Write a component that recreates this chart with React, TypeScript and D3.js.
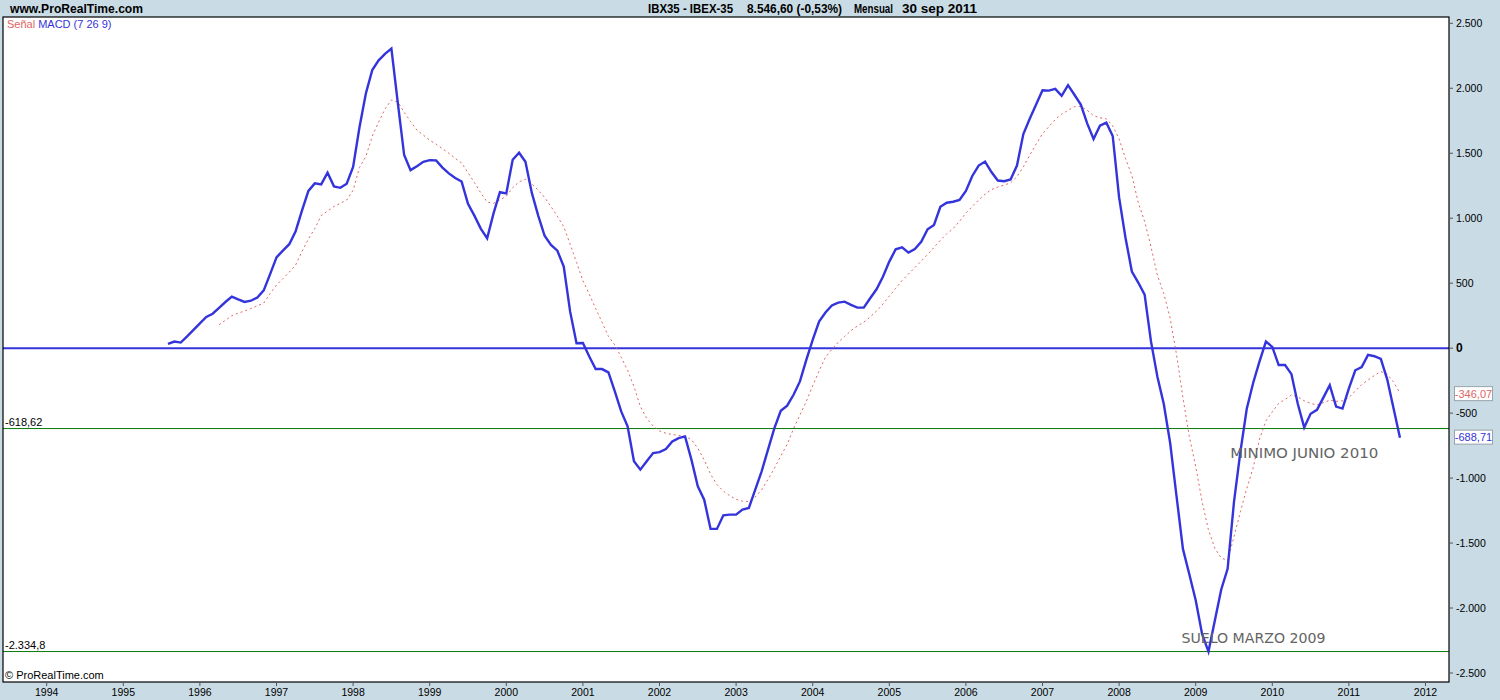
import React from 'react';
import * as d3 from 'd3';

// MACD (7 26 9) monthly values, starting August 1995
const macdStartYear = 1995;
const macdStartMonth = 7; // 0-based: August
const macdValues = [
  // 1995 Aug-Dec
  33, 51, 43, 90, 140,
  // 1996
  190, 240, 265, 310, 355, 397, 375, 356, 365, 390, 445, 570,
  // 1997
  699, 750, 800, 900, 1060, 1210, 1268, 1260, 1350, 1245, 1234, 1265,
  // 1998
  1395, 1700, 1960, 2140, 2215, 2265, 2306, 1890, 1486, 1370, 1400, 1434,
  // 1999
  1447, 1445, 1390, 1345, 1310, 1282, 1110, 1020, 920, 845, 1037, 1200,
  // 2000
  1191, 1450, 1504, 1434, 1195, 1020, 865, 794, 750, 627, 281, 38,
  // 2001
  40, -64, -161, -161, -187, -333, -487, -602, -871, -935, -871, -807,
  // 2002
  -800, -776, -718, -692, -679, -858, -1063, -1166, -1391, -1391, -1286, -1281,
  // 2003
  -1281, -1243, -1230, -1089, -948, -781, -615, -482, -443, -359, -256, -90,
  // 2004
  64, 205, 274, 328, 351, 358, 333, 312, 312, 384, 453, 550,
  // 2005
  666, 761, 776, 735, 763, 819, 915, 948, 1088, 1119, 1127, 1140,
  // 2006
  1210, 1325, 1405, 1436, 1355, 1290, 1285, 1298, 1405, 1648, 1765, 1875,
  // 2007
  1985, 1982, 1995, 1942, 2024, 1950, 1875, 1730, 1610, 1712, 1735, 1633,
  // 2008
  1160, 850, 590, 505, 412, 50, -220, -430, -730, -1140, -1545, -1740,
  // 2009
  -1940, -2200, -2335, -2096, -1857, -1698, -1183, -799, -466, -268, -102, 50,
  // 2010
  10, -130, -130, -200, -430, -610, -505, -475, -381, -285, -450, -465,
  // 2011 Jan-Sep
  -310, -170, -145, -52, -62, -83, -240, -465, -688.71,
];

// Signal line values, starting April 1996
const signalStartYear = 1996;
const signalStartMonth = 3; // April
const signalValues = [
  // 1996 Apr-Dec
  180, 215, 250, 270, 285, 305, 325, 347, 420,
  // 1997
  485, 535, 585, 640, 745, 840, 920, 1020, 1055, 1090, 1115, 1140,
  // 1998
  1215, 1390, 1475, 1630, 1740, 1840, 1910, 1895, 1815, 1745, 1678, 1640,
  // 1999
  1600, 1570, 1535, 1500, 1460, 1425, 1350, 1275, 1195, 1125, 1114, 1140,
  // 2000
  1170, 1235, 1280, 1300, 1265, 1215, 1160, 1090, 1015, 935, 800, 660,
  // 2001
  520, 415, 305, 200, 90, 25, -70, -170, -295, -449, -540, -600,
  // 2002
  -637, -655, -665, -672, -678, -705, -770, -860, -970, -1050, -1100, -1135,
  // 2003
  -1163, -1178, -1180, -1145, -1090, -1010, -925, -830, -740, -620, -515, -410,
  // 2004
  -290, -175, -70, -10, 45, 90, 135, 170, 200, 240, 285, 340,
  // 2005
  400, 460, 520, 570, 620, 670, 720, 775, 830, 880, 920, 975,
  // 2006
  1040, 1090, 1140, 1185, 1220, 1240, 1255, 1272, 1320, 1395, 1485, 1570,
  // 2007
  1650, 1705, 1760, 1800, 1830, 1858, 1862, 1830, 1790, 1772, 1765, 1710,
  // 2008
  1610, 1460, 1330, 1120, 975, 780, 560, 420, 230, -50, -380, -680,
  // 2009
  -910, -1180, -1400, -1540, -1615, -1635, -1450, -1260, -1080, -920, -700, -560,
  // 2010
  -490, -425, -395, -360, -375, -405, -425, -438, -420, -400, -410, -405,
  // 2011 Jan-Sep
  -380, -330, -280, -245, -210, -180, -200, -260, -346.07,
];

const yTickValues = [2500, 2000, 1500, 1000, 500, 0, -500, -1000, -1500, -2000, -2500];
const yearTicks = [1994, 1995, 1996, 1997, 1998, 1999, 2000, 2001, 2002, 2003, 2004, 2005, 2006, 2007, 2008, 2009, 2010, 2011, 2012];
const levelValues = [-618.62, -2334.8];
const levelLabels = ['-618,62', '-2.334,8'];
const lastMacdLabel = '-688,71';
const lastSignalLabel = '-346,07';

const titleParts = ['IBX35 - IBEX-35', '8.546,60 (-0,53%)', 'Mensual', '30 sep 2011'];
const annotations = [
  { text: 'MINIMO JUNIO 2010', year: 2010, month: 5, value: -618.62 },
  { text: 'SUELO MARZO 2009', year: 2009, month: 2, value: -2334.8 },
];

const BG = '#c9dbe5';
const BLUE = '#3434dc';
const RED = '#e06464';
const GREEN = '#0a7a0a';
const FONT = '"Liberation Sans", Arial, sans-serif';

const locale = d3.formatLocale({ decimal: ',', thousands: '.', grouping: [3], currency: ['', ''], minus: '-' });
const fmtTick = locale.format(',d');

export default function App() {
  const W = 1500;
  const H = 700;
  const left = 3, right = 1449, top = 17, bottom = 682;

  const x = d3.scaleLinear().domain([1994, 2012]).range([46.7, 1425.5]);
  const y = d3.scaleLinear().domain([-2500, 2500]).range([673, 23.3]);

  const macdPts: [number, number][] = macdValues.map((v, i) => [macdStartYear + (macdStartMonth + i) / 12, v]);
  const sigPts: [number, number][] = signalValues.map((v, i) => [signalStartYear + (signalStartMonth + i) / 12, v]);
  const line = d3.line<[number, number]>().x(d => x(d[0])).y(d => y(d[1]));

  const lastMacd = macdValues[macdValues.length - 1];
  const lastSig = signalValues[signalValues.length - 1];

  return (
    <div style={{ position: 'absolute', left: 0, top: 0, width: W, height: H }}>
      <svg width={W} height={H} style={{ display: 'block' }}>
        <defs>
          <clipPath id="plot">
            <rect x={left} y={top} width={right - left} height={bottom - top} />
          </clipPath>
        </defs>
        <rect x={0} y={0} width={W} height={H} fill={BG} />
        <rect x={left} y={top} width={right - left} height={bottom - top} fill="#fff" />

        {/* header */}
        <text x={10} y={13} fontFamily={FONT} fontWeight="bold" fontSize={13} textLength={133} lengthAdjust="spacingAndGlyphs">www.ProRealTime.com</text>
        <text x={648} y={13} fontFamily={FONT} fontWeight="bold" fontSize={12} textLength={85} lengthAdjust="spacingAndGlyphs">{titleParts[0]}</text>
        <text x={747} y={13} fontFamily={FONT} fontWeight="bold" fontSize={12} textLength={95} lengthAdjust="spacingAndGlyphs">{titleParts[1]}</text>
        <text x={854} y={13} fontFamily={FONT} fontWeight="bold" fontSize={12} textLength={39} lengthAdjust="spacingAndGlyphs">{titleParts[2]}</text>
        <text x={902} y={13} fontFamily={FONT} fontWeight="bold" fontSize={12} textLength={75} lengthAdjust="spacingAndGlyphs">{titleParts[3]}</text>

        {/* legend */}
        <text x={7} y={28} fontFamily={FONT} fontSize={11}>
          <tspan fill={RED}>Señal</tspan>
          <tspan fill={BLUE} dx={3}>MACD (7 26 9)</tspan>
        </text>

        <g clipPath="url(#plot)">
          {/* horizontal levels */}
          {levelValues.map((v, i) => (
            <g key={i}>
              <line x1={left} x2={right} y1={y(v)} y2={y(v)} stroke={GREEN} strokeWidth={1} />
              <text x={5} y={y(v) - 3} fontFamily={FONT} fontSize={11} fill="#000">{levelLabels[i]}</text>
            </g>
          ))}
          <line x1={left} x2={right} y1={y(0)} y2={y(0)} stroke={BLUE} strokeWidth={2} />
          <path d={line(sigPts) || ''} fill="none" stroke={RED} strokeWidth={1} strokeDasharray="2,3" />
          <path d={line(macdPts) || ''} fill="none" stroke={BLUE} strokeWidth={2.4} strokeLinejoin="miter" />
          {annotations.map((a, i) => (
            <text key={i} x={x(a.year + a.month / 12) + (i === 0 ? -74 : -27)} y={y(a.value) + (i === 0 ? 29 : -9)} fontFamily='"DejaVu Sans", Verdana, sans-serif' fontSize={14} fill="#646464" textLength={i === 0 ? 148 : 144} lengthAdjust="spacingAndGlyphs">{a.text}</text>
          ))}
          <text x={5} y={679} fontFamily={FONT} fontSize={11} fill="#000">© ProRealTime.com</text>
        </g>

        {/* frame */}
        <rect x={left} y={top} width={right - left} height={bottom - top} fill="none" stroke="#000" strokeWidth={1.2} />

        {/* right axis */}
        {yTickValues.map(v => (
          <g key={v}>
            <line x1={right} x2={right + 4} y1={y(v)} y2={y(v)} stroke="#555" />
            <text x={1456} y={y(v) + 4} fontFamily={FONT} fontSize={v === 0 ? 12 : 10.5} fontWeight={v === 0 ? 'bold' : 'normal'} fill="#000">{fmtTick(v)}</text>
          </g>
        ))}

        {/* last value boxes */}
        <rect x={1454.5} y={y(lastSig) - 6.5} width={38} height={14} fill="#fff" stroke="#98a4ac" />
        <text x={1473.5} y={y(lastSig) + 4.5} textAnchor="middle" fontFamily={FONT} fontSize={11} fill={RED}>{lastSignalLabel}</text>
        <rect x={1454.5} y={y(lastMacd) - 7.5} width={38} height={14} fill="#fff" stroke="#98a4ac" />
        <text x={1473.5} y={y(lastMacd) + 3.5} textAnchor="middle" fontFamily={FONT} fontSize={11} fill={BLUE}>{lastMacdLabel}</text>

        {/* bottom axis */}
        {yearTicks.map(yr => (
          <g key={yr}>
            <line x1={x(yr)} x2={x(yr)} y1={bottom} y2={bottom + 4} stroke="#555" />
            <text x={x(yr)} y={696} textAnchor="middle" fontFamily={FONT} fontSize={10.5} fill="#000">{yr}</text>
          </g>
        ))}
      </svg>
    </div>
  );
}
